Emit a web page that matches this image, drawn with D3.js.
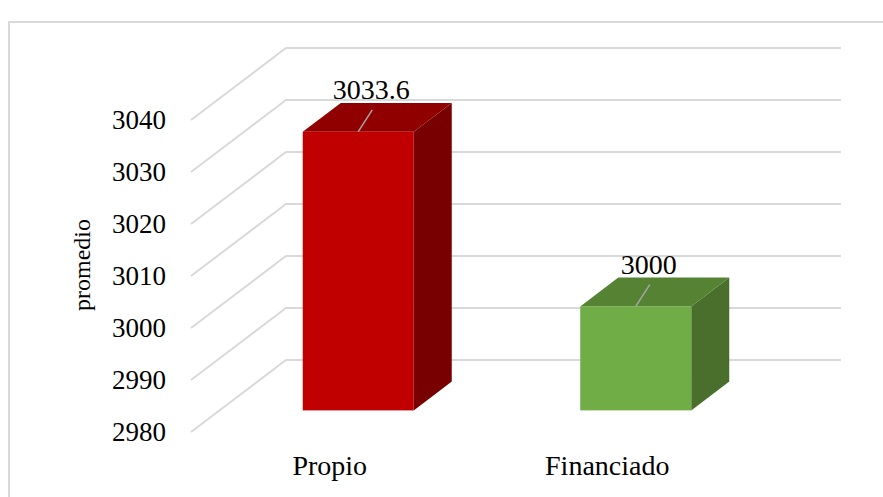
<!DOCTYPE html>
<html>
<head>
<meta charset="utf-8">
<script src="https://cdn.jsdelivr.net/npm/d3@7"></script>
<style>
  html, body { margin: 0; padding: 0; background: #fff; }
  svg { display: block; }
</style>
</head>
<body>
<div id="chart"></div>
<script>
'use strict';

var categories = ['Propio', 'Financiado'];
var values     = [3033.6, 3000];
var valueText  = ['3033.6', '3000'];
var yTicks     = [2980, 2990, 3000, 3010, 3020, 3030, 3040];

var frontColors = ['#c00000', '#70ad47'];
var topColors   = ['#900000', '#568234'];
var sideColors  = ['#780000', '#4a6e2b'];

var width  = 883;
var height = 497;
var serif  = "'Liberation Serif', 'Times New Roman', Times, 'DejaVu Serif', serif";

// depth of the 3d box: front plane -> back wall
var depthX = 95;
var depthY = -72;
var barZ0 = 0.3;
var barZ1 = 0.7;

var svg = d3.select('#chart').append('svg')
    .attr('width', width)
    .attr('height', height)
    .attr('font-family', serif);

// chart area border (runs off the right and bottom edges)
svg.append('rect')
    .attr('x', 9).attr('y', 22)
    .attr('width', width).attr('height', height)
    .attr('fill', 'none')
    .attr('stroke', '#d9d9d9')
    .attr('stroke-width', 2);

var y = d3.scaleLinear()
    .domain([2980, 3040])
    .range([432, 120]);

var x = d3.scalePoint()
    .domain(categories)
    .range([191, 746])
    .padding(0.5);

var barWidth = x.step() * 0.4;

// project (front-plane x, value, depth) to screen
function px(xx, z) { return xx + z * depthX; }
function py(v, z) { return y(v) + z * depthY; }

// gridlines: diagonal floor-side part + back wall part
var grid = svg.append('g')
    .attr('stroke', '#d9d9d9')
    .attr('stroke-width', 2)
    .attr('fill', 'none');

grid.selectAll('path')
    .data(yTicks)
    .enter()
    .append('path')
    .attr('d', function (d) {
      return 'M' + px(191, 0) + ',' + py(d, 0) +
             'L' + px(191, 1) + ',' + py(d, 1) +
             'L' + px(746, 1) + ',' + py(d, 1);
    });

// tick labels
svg.append('g')
    .selectAll('text')
    .data(yTicks)
    .enter()
    .append('text')
    .attr('x', 166)
    .attr('y', function (d) { return y(d); })
    .attr('dy', '0.35em')
    .attr('text-anchor', 'end')
    .attr('font-family', serif)
    .attr('font-size', 27)
    .text(function (d) { return d; });

// axis title
svg.append('text')
    .attr('transform', 'translate(90,265) rotate(-90)')
    .attr('text-anchor', 'middle')
    .attr('font-family', serif)
    .attr('font-size', 24)
    .text('promedio');

// bars
var bars = svg.append('g')
    .selectAll('g')
    .data(values)
    .enter()
    .append('g');

function poly(pts) {
  return 'M' + pts.map(function (p) { return p[0] + ',' + p[1]; }).join('L') + 'Z';
}

bars.each(function (d, i) {
  var g = d3.select(this);
  var x0 = x(categories[i]) - barWidth / 2;
  var x1 = x(categories[i]) + barWidth / 2;
  var base = y.domain()[0];

  // side
  g.append('path')
      .attr('fill', sideColors[i])
      .attr('d', poly([
        [px(x1, barZ0), py(base, barZ0)],
        [px(x1, barZ1), py(base, barZ1)],
        [px(x1, barZ1), py(d, barZ1)],
        [px(x1, barZ0), py(d, barZ0)]
      ]));
  // top
  g.append('path')
      .attr('fill', topColors[i])
      .attr('d', poly([
        [px(x0, barZ0), py(d, barZ0)],
        [px(x1, barZ0), py(d, barZ0)],
        [px(x1, barZ1), py(d, barZ1)],
        [px(x0, barZ1), py(d, barZ1)]
      ]));
  // front
  g.append('rect')
      .attr('fill', frontColors[i])
      .attr('x', px(x0, barZ0))
      .attr('y', py(d, barZ0))
      .attr('width', barWidth)
      .attr('height', py(base, barZ0) - py(d, barZ0));

  // data label + leader line
  var lx = px(x(categories[i]), 0.5) - 6;
  var ly = py(d, barZ1) - 4;

  g.append('line')
      .attr('x1', px(x(categories[i]), barZ0))
      .attr('y1', py(d, barZ0))
      .attr('x2', lx + 1)
      .attr('y2', ly + 11)
      .attr('stroke', '#a6a6a6')
      .attr('stroke-width', 1.5);

  g.append('text')
      .attr('x', lx)
      .attr('y', ly)
      .attr('text-anchor', 'middle')
      .attr('font-family', serif)
      .attr('font-size', 28)
      .text(valueText[i]);
});

// category labels
svg.append('g')
    .selectAll('text')
    .data(categories)
    .enter()
    .append('text')
    .attr('x', function (d) { return x(d); })
    .attr('y', 475)
    .attr('text-anchor', 'middle')
    .attr('font-family', serif)
    .attr('font-size', 28)
    .text(function (d) { return d; });
</script>
</body>
</html>
